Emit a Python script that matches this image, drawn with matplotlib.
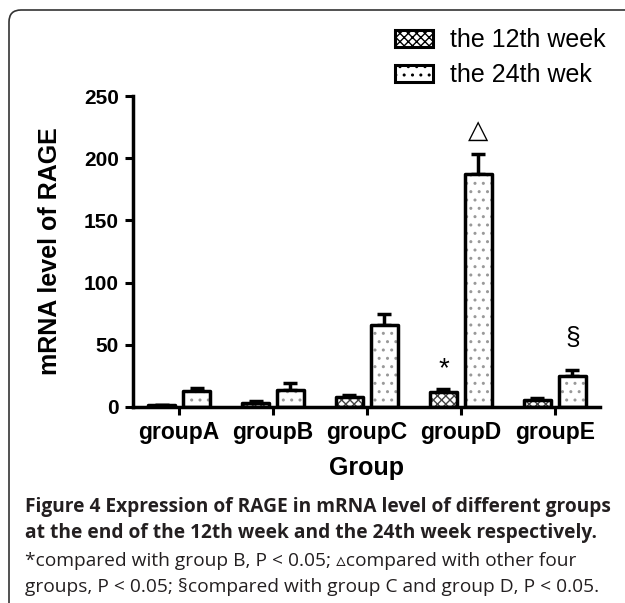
import numpy as np
import matplotlib
matplotlib.use("Agg")
import matplotlib.pyplot as plt
from matplotlib.patches import Patch, FancyBboxPatch
from matplotlib.transforms import IdentityTransform

# data
groups = ["groupA", "groupB", "groupC", "groupD", "groupE"]
week12 = [1.5, 3.5, 8, 12, 6]
week12_err = [0.5, 1, 1.5, 2.5, 1.5]
week24 = [13, 14, 66, 187, 25]
week24_err = [2, 5, 9, 16, 5]
yticks = [0, 50, 100, 150, 200, 250]
# significance marks: (group index, series, symbol)
marks = [(3, "w12", "*"), (3, "w24", "\u25b3"), (4, "w24", "\u00a7")]

plt.rcParams["font.family"] = ["Liberation Sans", "DejaVu Sans"]
plt.rcParams["hatch.linewidth"] = 1.0

fig = plt.figure(figsize=(6.25, 6.03), dpi=100)
ax = fig.add_axes([133 / 625, 1 - 407 / 603, (600 - 133) / 625, (407 - 96) / 603])

x = np.arange(len(groups))
w = 0.29
off = 0.186

# hatch fill, then thick black outline on top
ax.bar(x - off, week12, w, color="white", edgecolor="#444444", hatch="xxxx", linewidth=0, zorder=2)
ax.bar(x + off, week24, w, color="white", edgecolor="#999999", hatch="..", linewidth=0, zorder=2)
ax.errorbar(x - off, week12, yerr=[np.zeros(5), week12_err], fmt="none", ecolor="black",
            elinewidth=2.5, capsize=5, capthick=2.5, zorder=1)
ax.errorbar(x + off, week24, yerr=[np.zeros(5), week24_err], fmt="none", ecolor="black",
            elinewidth=2.5, capsize=5, capthick=2.5, zorder=1)
ax.bar(x - off, week12, w, fill=False, edgecolor="black", linewidth=2.5, zorder=3, joinstyle="round")
ax.bar(x + off, week24, w, fill=False, edgecolor="black", linewidth=2.5, zorder=3, joinstyle="round")

offsets = {"*": 14, "\u25b3": 17, "\u00a7": 23}
sizes = {"*": 20, "\u25b3": 19, "\u00a7": 19}
for gi, series, sym in marks:
    if series == "w12":
        xx, top = gi - off, week12[gi] + week12_err[gi]
    else:
        xx, top = gi + off, week24[gi] + week24_err[gi]
    ax.annotate(sym, xy=(xx, top), xytext=(0, offsets[sym]), textcoords="offset points",
                ha="center", va="center", fontsize=sizes[sym],
                family=["DejaVu Sans"] if sym == "\u25b3" else ["Liberation Sans"])

ax.set_xlim(-0.49, 4.48)
ax.set_ylim(0, 250)
ax.set_yticks(yticks)
ax.set_xticks(x)
ax.set_xticklabels(groups, fontsize=16.5, fontweight="bold")
ax.set_yticklabels([str(t) for t in yticks], fontsize=15, fontweight="bold")
for s in ["top", "right"]:
    ax.spines[s].set_visible(False)
for s in ["left", "bottom"]:
    ax.spines[s].set_linewidth(2.5)
ax.tick_params(axis="both", length=6, width=2.2, pad=4)

ax.set_xlabel("Group", fontsize=18, fontweight="bold", labelpad=9)
ax.set_ylabel("mRNA level of RAGE", fontsize=18, fontweight="bold", labelpad=16)

handles = [Patch(facecolor="white", edgecolor="black", hatch="xxxx", linewidth=2.2),
           Patch(facecolor="white", edgecolor="black", hatch="..", linewidth=2.2)]
fig.legend(handles, ["the 12th week", "the 24th wek"], loc="upper left",
           bbox_to_anchor=(395 / 625, 1 - 28 / 603), frameon=False, fontsize=18,
           handlelength=1.5, handleheight=0.7, handletextpad=0.7, labelspacing=0.45,
           borderpad=0, borderaxespad=0)

# rounded frame around the figure panel
frame = FancyBboxPatch((9, -60), 700, 603 - 10 + 60, boxstyle="round,pad=0,rounding_size=12",
                       transform=IdentityTransform(), facecolor="none", edgecolor="#333333",
                       linewidth=1.2)
fig.add_artist(frame)

cap_font = ["Open Sans", "DejaVu Sans"]
col = "#231f20"
fig.text(25 / 625, 1 - 507 / 603, "Figure 4 Expression of RAGE in mRNA level of different groups",
         fontsize=13.8, fontweight="bold", family=cap_font, color=col, va="center")
fig.text(25 / 625, 1 - 533 / 603, "at the end of the 12th week and the 24th week respectively.",
         fontsize=13.8, fontweight="bold", family=cap_font, color=col, va="center")
fig.text(25 / 625, 1 - 561 / 603, "*compared with group B, P < 0.05; \u25b5compared with other four",
         fontsize=13.8, family=cap_font, color=col, va="center")
fig.text(25 / 625, 1 - 587 / 603, "groups, P < 0.05; \u00a7compared with group C and group D, P < 0.05.",
         fontsize=13.8, family=cap_font, color=col, va="center")

fig.savefig("out.png", dpi=100)
